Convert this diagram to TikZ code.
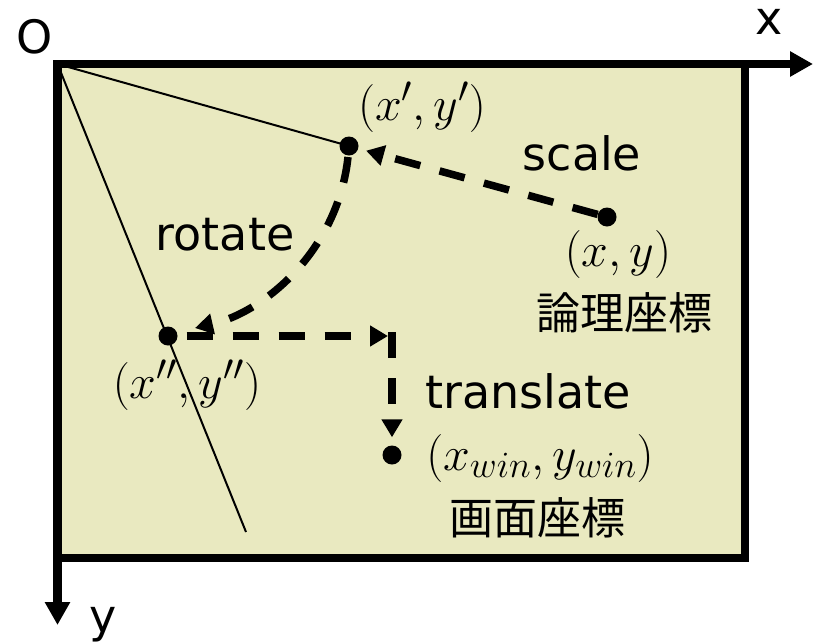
\RequirePackage{fix-cm}
\documentclass[tikz,border=0pt]{standalone}
\usepackage[no-math]{fontspec}
\setmainfont{DejaVu Sans}
\newfontfamily\jp{Noto Sans CJK JP}
\usetikzlibrary{arrows.meta}
\DeclareMathSizes{48}{48}{37}{30}
\definecolor{bg}{RGB}{233,233,192}
\begin{document}
\begin{tikzpicture}[x=1pt,y=-1pt,
  lbl/.style={font=\fontsize{46}{50}\selectfont, inner sep=0pt},
  mlbl/.style={font=\fontsize{48}{52}\selectfont, inner sep=0pt},
  jlbl/.style={font=\fontsize{44}{48}\selectfont\jp, inner sep=0pt},
  dotn/.style={circle, fill=black, inner sep=0pt, minimum size=19pt},
  flow/.style={line width=7.5pt, dash pattern=on 26pt off 20pt, -{Triangle[length=18pt,width=20pt]}},
  axis/.style={line width=8.5pt, -{Triangle[length=23pt,width=24pt]}},
  thinline/.style={line width=2pt}
]
\useasboundingbox (0,0) rectangle (819,643);
\coordinate (O) at (57.5,64);
\coordinate (BR) at (745,558);
\coordinate (xend) at (813,64);
\coordinate (yend) at (57.5,625);
\fill[bg] (O) rectangle (BR);
% points
\node[dotn] (p1) at (607,217) {};
\node[dotn] (p2) at (349,146) {};
\node[dotn] (p3) at (168,336) {};
\node[dotn] (p4) at (392,455) {};
\coordinate (e2) at (246,532);
% thin lines
\draw[thinline] (O) -- (p2.center);
\draw[thinline] (O) -- (e2);
% frame and axes
\draw[line width=8.5pt] (O) rectangle (BR);
\draw[axis] (O) -- (xend);
\draw[axis] (O) -- (yend);
% arrows
\draw[flow, shorten >=8pt] (p1) -- (p2);
\coordinate (rs) at (348,157);
\coordinate (re) at (195,328);
\draw[flow] (rs) .. controls (338,250) and (265,312) .. (re);
\coordinate (th) at (388,336);
\coordinate (tc) at (392,332);
\draw[flow, shorten <=9pt] (p3) -- (th);
\draw[flow, shorten >=8pt] (tc) -- (p4);
% labels
\node[lbl, anchor=base] (lO) at (35,53) {O};
\node[lbl] (lx) at (769,22) {x};
\node[lbl, anchor=base] (ly) at (103,632) {y};
\node[mlbl] (l2) at (422,107) {$(x',y')$};
\node[lbl, anchor=base] (ls) at (582,170) {scale};
\node[mlbl] (l1) at (618,254) {$(x,y)$};
\node[jlbl] (j1) at (624,313) {論理座標};
\node[lbl, anchor=base] (lr) at (225,250) {rotate};
\node[mlbl] (l3) at (187,385) {$(x'',y'')$};
\node[lbl, anchor=base] (lt) at (528,408) {translate};
\node[mlbl] (l4) at (540,458) {$(x_{win},y_{win})$};
\node[jlbl] (j2) at (537,518) {画面座標};
\end{tikzpicture}
\end{document}
